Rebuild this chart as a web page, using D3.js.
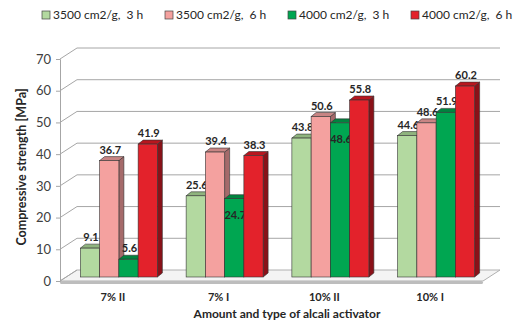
<!DOCTYPE html>
<html>
<head>
<meta charset="utf-8">
<script src="https://cdn.jsdelivr.net/npm/d3@7"></script>
<style>
  body { margin: 0; background: #fff; }
  text { font-family: Lato, "Liberation Sans", sans-serif; }
</style>
</head>
<body>
<div id="chart"></div>
<script>
// Dữ liệu của biểu đồ
const categories = ["7% II", "7% I", "10% II", "10% I"];
const seriesNames = ["3500 cm2/g,  3 h", "3500 cm2/g,  6 h", "4000 cm2/g,  3 h", "4000 cm2/g,  6 h"];
const s3500_3h = [9.1, 25.6, 43.8, 44.6];
const s3500_6h = [36.7, 39.4, 50.6, 48.6];
const s4000_3h = [5.6, 24.7, 48.6, 51.9];
const s4000_6h = [41.9, 38.3, 55.8, 60.2];
const yTicks = [0, 10, 20, 30, 40, 50, 60, 70];
// nhãn nằm bên trong cột (category|series index)
const insideLabels = ["7% I|2", "10% II|2"];

const seriesValues = [s3500_3h, s3500_6h, s4000_3h, s4000_6h];

const W = 521, H = 331;
const frontColor = ["#b3d9a0", "#f4a19f", "#00a651", "#e3222b"];
const topColor   = ["#8fb47e", "#c88584", "#00843f", "#b8161e"];
const sideColor  = ["#7c9c6c", "#a56a6a", "#006a32", "#8a1118"];

const svg = d3.select("#chart").append("svg")
    .attr("width", W).attr("height", H);

const left = 60, right = 483;
const wall = { dx: 17, dy: -11 };   // độ sâu tường sau
const plane = { dx: 6, dy: -4 };    // mặt phẳng của các cột
const depth = { dx: 5, dy: -4 };    // độ dày cột

const y = d3.scaleLinear().domain([0, 70]).range([281, 59]);

const x0 = d3.scaleBand().domain(categories).range([left, right])
    .paddingInner(0.272).paddingOuter(0.136);
const x1 = d3.scaleBand().domain(d3.range(seriesNames.length)).range([0, x0.bandwidth()]);

// Sàn
svg.append("path")
    .attr("d", `M${left},${y(0)} L${right},${y(0)} L${right + wall.dx},${y(0) + wall.dy} L${left + wall.dx},${y(0) + wall.dy} Z`)
    .attr("fill", "#f4f4f4")
    .attr("stroke", "#b0b0b0");
svg.append("rect")
    .attr("x", left).attr("y", y(0))
    .attr("width", right - left).attr("height", 3)
    .attr("rx", 1.5)
    .attr("fill", "#bdbdbd");

// Lưới trên tường sau
const grid = svg.append("g");
yTicks.forEach(t => {
    grid.append("line")
        .attr("x1", left).attr("y1", y(t))
        .attr("x2", left + wall.dx).attr("y2", y(t) + wall.dy)
        .attr("stroke", "#a6a6a6");
    if (t > 0) {
        grid.append("line")
            .attr("x1", left + wall.dx).attr("y1", y(t) + wall.dy)
            .attr("x2", right + wall.dx).attr("y2", y(t) + wall.dy)
            .attr("stroke", "#a6a6a6");
    }
});

// Trục Y
const yAxis = svg.append("g")
    .attr("transform", `translate(${left},0)`)
    .call(d3.axisLeft(y).tickValues(yTicks).tickSize(4).tickPadding(5));
yAxis.select(".domain").attr("stroke", "#a6a6a6");
yAxis.selectAll(".tick line").attr("stroke", "#a6a6a6");
yAxis.selectAll("text")
    .style("font-size", "13px")
    .attr("fill", "#404040");

// Các cột 3D
const bars = [];
categories.forEach((c, ci) => {
    seriesValues.forEach((vals, si) => {
        bars.push({ cat: c, si: si, value: vals[ci] });
    });
});

const barG = svg.selectAll("g.bar")
    .data(bars)
    .enter()
    .append("g")
    .attr("class", "bar")
    .attr("transform", d => `translate(${x0(d.cat) + x1(d.si) + plane.dx},${plane.dy})`);

const bw = x1.bandwidth();

barG.append("path")
    .attr("d", d => {
        const t = y(d.value), b = y(0);
        return `M${bw},${t} L${bw + depth.dx},${t + depth.dy} L${bw + depth.dx},${b + depth.dy} L${bw},${b} Z`;
    })
    .attr("fill", d => sideColor[d.si])
    .attr("stroke", "#333").attr("stroke-width", 0.6);

barG.append("path")
    .attr("d", d => {
        const t = y(d.value);
        return `M0,${t} L${depth.dx},${t + depth.dy} L${bw + depth.dx},${t + depth.dy} L${bw},${t} Z`;
    })
    .attr("fill", d => topColor[d.si])
    .attr("stroke", "#333").attr("stroke-width", 0.6);

barG.append("rect")
    .attr("x", 0)
    .attr("y", d => y(d.value))
    .attr("width", bw)
    .attr("height", d => y(0) - y(d.value))
    .attr("fill", d => frontColor[d.si])
    .attr("stroke", "#333").attr("stroke-width", 0.6);

// Nhãn số liệu
barG.append("text")
    .attr("x", bw / 2 + 1)
    .attr("y", d => insideLabels.includes(d.cat + "|" + d.si) ? y(d.value) + 20 : y(d.value) - 7)
    .attr("text-anchor", "middle")
    .style("font-size", "11px")
    .style("font-weight", "bold")
    .attr("fill", "#262626")
    .text(d => d.value.toFixed(1));

// Nhãn trục X
svg.selectAll(".cat-label")
    .data(categories)
    .enter()
    .append("text")
    .attr("class", "cat-label")
    .attr("x", d => x0(d) + x0.bandwidth() / 2)
    .attr("y", 301)
    .attr("text-anchor", "middle")
    .style("font-size", "11px")
    .style("font-weight", "bold")
    .attr("fill", "#262626")
    .text(d => d);

svg.append("text")
    .attr("x", 287)
    .attr("y", 318)
    .attr("text-anchor", "middle")
    .style("font-size", "12px")
    .style("font-weight", "bold")
    .attr("fill", "#262626")
    .text("Amount and type of alcali activator");

svg.append("text")
    .attr("transform", "rotate(-90)")
    .attr("x", -167)
    .attr("y", 26)
    .attr("text-anchor", "middle")
    .style("font-size", "12.5px")
    .style("font-weight", "bold")
    .attr("fill", "#262626")
    .text("Compressive strength [MPa]");

// Chú thích
const legend = svg.selectAll(".legend")
    .data(seriesNames)
    .enter()
    .append("g")
    .attr("class", "legend")
    .attr("transform", (d, i) => `translate(${42 + i * 123},15)`);

legend.append("rect")
    .attr("x", 0).attr("y", -4)
    .attr("width", 8).attr("height", 8)
    .attr("fill", (d, i) => frontColor[i])
    .attr("stroke", "#444").attr("stroke-width", 0.7);

legend.append("text")
    .attr("x", 11)
    .attr("y", 4)
    .style("font-size", "12px")
    .attr("fill", "#262626")
    .style("white-space", "pre")
    .text(d => d);
</script>
</body>
</html>
